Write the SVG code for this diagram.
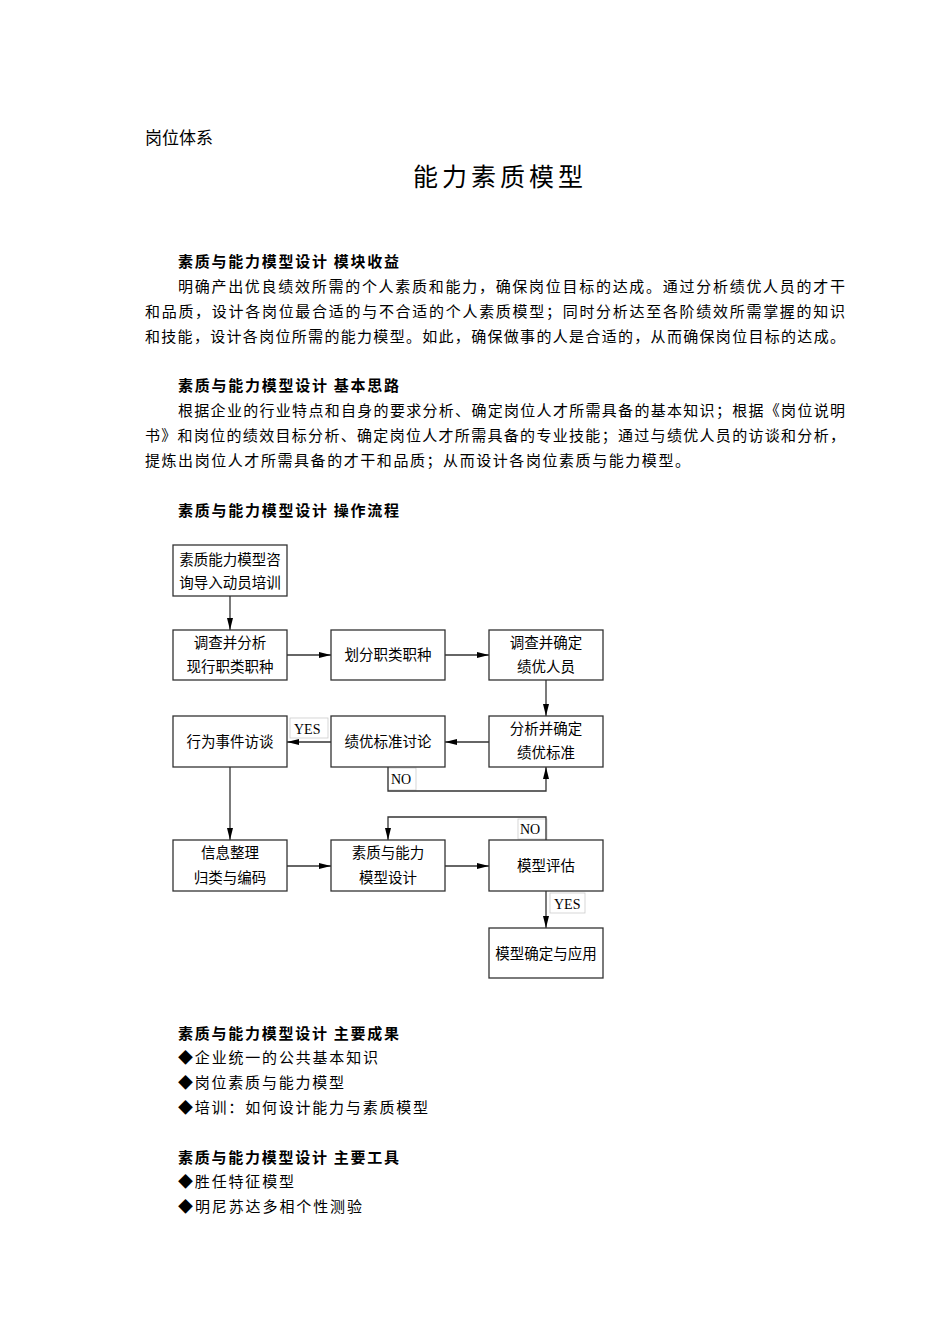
<svg xmlns="http://www.w3.org/2000/svg" width="950" height="1344" viewBox="0 0 950 1344">
<style>
.t{font-family:"Noto Sans CJK SC","Liberation Serif",serif;font-size:15px;fill:#000}
.h{font-weight:bold}
.b{fill:#fff;stroke:#333;stroke-width:1.3}
.n{font-family:"Noto Sans CJK SC",sans-serif;font-size:14.5px;text-anchor:middle}
.l{font-family:"Liberation Serif",serif;font-size:14px}
.c{fill:none;stroke:#333;stroke-width:1.3}
.lb{fill:#fff;stroke:#ccc;stroke-width:0.8}
</style>
<defs><marker id="a" markerWidth="12" markerHeight="8" refX="12" refY="4" orient="auto" markerUnits="userSpaceOnUse"><path d="M0,1 L12,4 L0,7 Z" fill="#000"/></marker></defs>
<rect width="950" height="1344" fill="#fff"/>
<text x="145" y="144" style="font-family:'Noto Sans CJK SC',sans-serif;font-size:17px">岗位体系</text>
<text x="413" y="186" style="font-family:'Noto Sans CJK SC',serif;font-size:25px" letter-spacing="4">能力素质模型</text>
<text class="t h" x="178" y="267" textLength="221">素质与能力模型设计 模块收益</text>
<text class="t" x="178" y="292" textLength="667">明确产出优良绩效所需的个人素质和能力，确保岗位目标的达成。通过分析绩优人员的才干</text>
<text class="t" x="145" y="317" textLength="700">和品质，设计各岗位最合适的与不合适的个人素质模型；同时分析达至各阶绩效所需掌握的知识</text>
<text class="t" x="145" y="342" textLength="700">和技能，设计各岗位所需的能力模型。如此，确保做事的人是合适的，从而确保岗位目标的达成。</text>
<text class="t h" x="178" y="391" textLength="221">素质与能力模型设计 基本思路</text>
<text class="t" x="178" y="416" textLength="667">根据企业的行业特点和自身的要求分析、确定岗位人才所需具备的基本知识；根据《岗位说明</text>
<text class="t" x="145" y="441" textLength="700">书》和岗位的绩效目标分析、确定岗位人才所需具备的专业技能；通过与绩优人员的访谈和分析，</text>
<text class="t" x="145" y="466" textLength="545">提炼出岗位人才所需具备的才干和品质；从而设计各岗位素质与能力模型。</text>
<text class="t h" x="178" y="516" textLength="221">素质与能力模型设计 操作流程</text>

<g id="labels">
<rect class="lb" x="290" y="718" width="38" height="20"/><text class="l" x="294" y="734">YES</text>
<rect class="lb" x="388" y="768" width="28" height="22"/><text class="l" x="391" y="784">NO</text>
<rect class="lb" x="518" y="819" width="29" height="20"/><text class="l" x="520" y="834">NO</text>
<rect class="lb" x="550" y="893" width="35" height="20"/><text class="l" x="554" y="909">YES</text>
</g>
<g id="connectors">
<line class="c" x1="230" y1="596" x2="230" y2="630" marker-end="url(#a)"/>
<line class="c" x1="287" y1="655" x2="331" y2="655" marker-end="url(#a)"/>
<line class="c" x1="445" y1="655" x2="489" y2="655" marker-end="url(#a)"/>
<line class="c" x1="546" y1="680" x2="546" y2="716" marker-end="url(#a)"/>
<line class="c" x1="489" y1="742" x2="445" y2="742" marker-end="url(#a)"/>
<line class="c" x1="331" y1="742" x2="287" y2="742" marker-end="url(#a)"/>
<polyline class="c" points="388,767 388,791 546,791 546,767" marker-end="url(#a)"/>
<line class="c" x1="230" y1="767" x2="230" y2="840" marker-end="url(#a)"/>
<line class="c" x1="287" y1="866" x2="331" y2="866" marker-end="url(#a)"/>
<line class="c" x1="445" y1="866" x2="489" y2="866" marker-end="url(#a)"/>
<polyline class="c" points="546,840 546,817 388,817 388,840" marker-end="url(#a)"/>
<line class="c" x1="546" y1="891" x2="546" y2="928" marker-end="url(#a)"/>
</g>
<g id="n1"><rect class="b" x="173" y="545" width="114" height="51"/><text class="n" x="230" y="565">素质能力模型咨</text><text class="n" x="230" y="588">询导入动员培训</text></g>
<g id="n2"><rect class="b" x="173" y="630" width="114" height="50"/><text class="n" x="230" y="648">调查并分析</text><text class="n" x="230" y="672">现行职类职种</text></g>
<g id="n3"><rect class="b" x="331" y="630" width="114" height="50"/><text class="n" x="388" y="660">划分职类职种</text></g>
<g id="n4"><rect class="b" x="489" y="630" width="114" height="50"/><text class="n" x="546" y="648">调查并确定</text><text class="n" x="546" y="672">绩优人员</text></g>
<g id="n5"><rect class="b" x="173" y="716" width="114" height="51"/><text class="n" x="230" y="747">行为事件访谈</text></g>
<g id="n6"><rect class="b" x="331" y="716" width="114" height="51"/><text class="n" x="388" y="747">绩优标准讨论</text></g>
<g id="n7"><rect class="b" x="489" y="716" width="114" height="51"/><text class="n" x="546" y="734">分析并确定</text><text class="n" x="546" y="758">绩优标准</text></g>
<g id="n8"><rect class="b" x="173" y="840" width="114" height="51"/><text class="n" x="230" y="858">信息整理</text><text class="n" x="230" y="883">归类与编码</text></g>
<g id="n9"><rect class="b" x="331" y="840" width="114" height="51"/><text class="n" x="388" y="858">素质与能力</text><text class="n" x="388" y="883">模型设计</text></g>
<g id="n10"><rect class="b" x="489" y="840" width="114" height="51"/><text class="n" x="546" y="871">模型评估</text></g>
<g id="n11"><rect class="b" x="489" y="928" width="114" height="50"/><text class="n" x="546" y="959">模型确定与应用</text></g>

<text class="t h" x="178" y="1039" textLength="221">素质与能力模型设计 主要成果</text>
<text class="t" x="178" y="1063" textLength="200">◆企业统一的公共基本知识</text>
<text class="t" x="178" y="1088" textLength="166">◆岗位素质与能力模型</text>
<text class="t" x="178" y="1113" textLength="250">◆培训：如何设计能力与素质模型</text>
<text class="t h" x="178" y="1163" textLength="221">素质与能力模型设计 主要工具</text>
<text class="t" x="178" y="1187" textLength="116">◆胜任特征模型</text>
<text class="t" x="178" y="1212" textLength="184">◆明尼苏达多相个性测验</text>
</svg>
